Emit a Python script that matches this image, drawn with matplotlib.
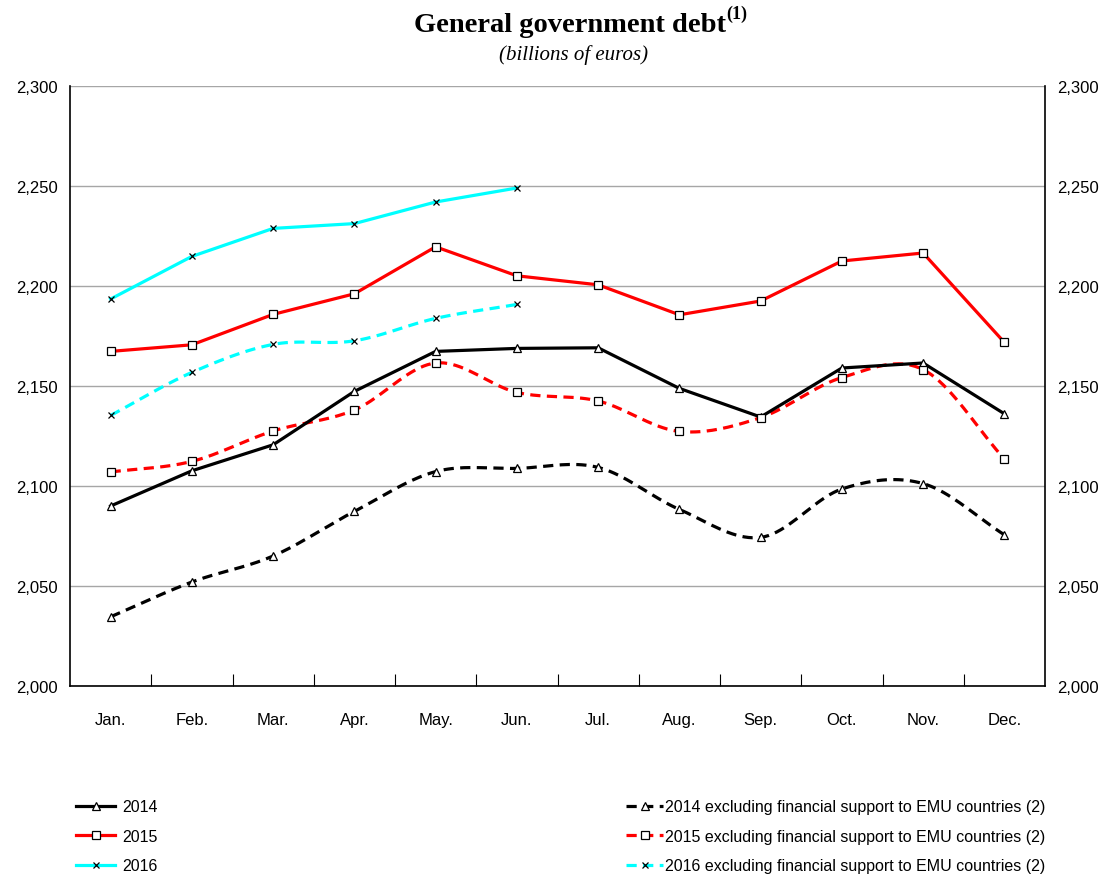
import numpy as np
import matplotlib.pyplot as plt
from matplotlib.ticker import FuncFormatter, FixedLocator

plt.rcParams['font.family'] = ['Liberation Sans', 'DejaVu Sans']

months = ["Jan.", "Feb.", "Mar.", "Apr.", "May.", "Jun.", "Jul.",
          "Aug.", "Sep.", "Oct.", "Nov.", "Dec."]

debt_2014 = [2090.0, 2107.6, 2120.6, 2147.3, 2167.3, 2168.8, 2169.1,
             2148.8, 2134.5, 2159.0, 2161.5, 2136.1]
debt_2015 = [2167.3, 2170.6, 2185.8, 2196.1, 2219.6, 2205.1, 2200.6,
             2185.6, 2192.5, 2212.5, 2216.5, 2171.8]
debt_2016 = [2193.5, 2214.8, 2228.8, 2231.2, 2242.0, 2249.0]

excl_2014 = [2034.6, 2052.0, 2065.0, 2087.3, 2107.2, 2108.8, 2109.3,
             2088.3, 2074.3, 2098.5, 2101.2, 2075.6]
excl_2015 = [2107.0, 2112.3, 2127.5, 2138.0, 2161.5, 2146.8, 2142.5,
             2127.3, 2134.2, 2154.2, 2158.2, 2113.5]
excl_2016 = [2135.3, 2156.8, 2170.8, 2172.6, 2183.8, 2190.8]

label_excl = " excluding financial support to EMU countries (2)"


def smooth(x, y, n=20):
    # catmull-rom style curve through the points (like excel "smoothed line")
    x = np.asarray(x, float)
    y = np.asarray(y, float)
    px = np.concatenate([[2 * x[0] - x[1]], x, [2 * x[-1] - x[-2]]])
    py = np.concatenate([[2 * y[0] - y[1]], y, [2 * y[-1] - y[-2]]])
    xs, ys = [], []
    for i in range(1, len(px) - 2):
        t = np.linspace(0, 1, n, endpoint=False)
        for p, out in ((px, xs), (py, ys)):
            p0, p1, p2, p3 = p[i - 1], p[i], p[i + 1], p[i + 2]
            out.extend(0.5 * ((2 * p1) + (-p0 + p2) * t
                              + (2 * p0 - 5 * p1 + 4 * p2 - p3) * t ** 2
                              + (-p0 + 3 * p1 - 3 * p2 + p3) * t ** 3))
    xs.append(x[-1])
    ys.append(y[-1])
    return np.array(xs), np.array(ys)


fig = plt.figure(figsize=(11.09, 8.78), dpi=100)
ax = fig.add_axes([70 / 1109, 1 - 687 / 878, 975 / 1109, 600 / 878])

lw = 2.3
mk = dict(markersize=6, markeredgewidth=0.9)

series = [
    (debt_2014, excl_2014, "black", "^", "2014"),
    (debt_2015, excl_2015, "red", "s", "2015"),
    (debt_2016, excl_2016, "cyan", "x", "2016"),
]

solid_handles = []
dash_handles = []
for solid, excl, col, m, name in series:
    x = np.arange(len(solid))
    if m == "x":
        mstyle = dict(marker=m, color=col, markeredgecolor="black",
                      markersize=5, markeredgewidth=0.9)
    else:
        mstyle = dict(marker=m, color=col, markerfacecolor="white",
                      markeredgecolor="black", **mk)
    h, = ax.plot(x, solid, lw=lw, zorder=4, **mstyle, label=name)
    solid_handles.append(h)

    sx, sy = smooth(x, excl)
    ax.plot(sx, sy, color=col, lw=lw, ls=(0, (3.2, 2.0)), zorder=3)
    ax.plot(x, excl, ls="none", zorder=5, **mstyle)
    hd, = ax.plot([], [], lw=lw, ls=(0, (3.2, 2.0)), **mstyle,
                  label=name + label_excl)
    dash_handles.append(hd)

ax.set_xlim(-0.5, 11.5)
ax.set_ylim(2000, 2300)
ax.set_yticks(np.arange(2000, 2301, 50))
ax.yaxis.set_major_formatter(FuncFormatter(lambda v, p: f"{int(v):,}"))
ax.grid(axis="y", color="#a6a6a6", lw=1)
ax.set_axisbelow(True)
ax.tick_params(axis="y", length=0, labelsize=12, labelright=True, pad=9)

ax.set_xticks(np.arange(12))
ax.set_xticklabels(months)
ax.tick_params(axis="x", which="major", length=0, labelsize=12, pad=19)
ax.xaxis.set_minor_locator(FixedLocator(np.arange(0.5, 11, 1)))
ax.tick_params(axis="x", which="minor", direction="in", length=9, width=0.8)

ax.spines["top"].set_visible(False)
for s in ("left", "right", "bottom"):
    ax.spines[s].set_linewidth(1.2)

t = fig.text(0.514, 0.971, "General government debt", ha="center", va="center",
             fontsize=20.5, fontweight="bold", family="Liberation Serif")
ax.annotate("(1)", xy=(1.0, 0.6), xycoords=t, fontsize=13,
            fontweight="bold", family="Liberation Serif", va="bottom")
fig.text(0.517, 0.937, "(billions of euros)", ha="center", va="center",
         fontsize=15, style="italic", family="Liberation Serif")

leg1 = fig.legend(handles=solid_handles, loc="upper left",
                  bbox_to_anchor=(62 / 1109, 1 - 786 / 878), frameon=False,
                  fontsize=11.5, labelspacing=0.9, handlelength=2.4,
                  handletextpad=0.5)
leg2 = fig.legend(handles=dash_handles, loc="upper left",
                  bbox_to_anchor=(612 / 1109, 1 - 786 / 878), frameon=False,
                  fontsize=11.5, labelspacing=0.9, handlelength=2.3,
                  handletextpad=0.1)

fig.savefig("out.png", dpi=100)
